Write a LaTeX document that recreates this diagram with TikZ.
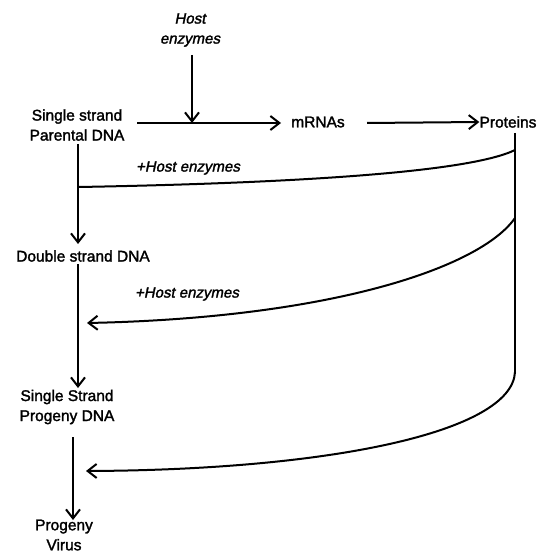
\documentclass[tikz,border=0pt]{standalone}
\usepackage{fontspec}
\setmainfont{Liberation Sans}
\newfontfamily\medsans{Liberation Sans}[FakeBold=1.8]
\newfontfamily\medsansit{Liberation Sans}[FakeBold=1.8,FakeSlant=0.2]
\usetikzlibrary{arrows.meta}
\begin{document}
\begin{tikzpicture}[x=1pt,y=-1pt,
  lbl/.style={font=\fontsize{15.5}{20}\selectfont\medsans, align=center, inner sep=0pt},
  note/.style={font=\fontsize{15}{20}\selectfont\medsansit, align=center, inner sep=0pt},
  flow/.style={line width=2pt, -{Straight Barb[length=9pt,width=14pt,line width=2pt]}},
  plain/.style={line width=2pt}]
\useasboundingbox (0,0) rectangle (546,553);

% labels
\node[note] (host) at (190,30) {Host\\enzymes};
\node[lbl] (ssp) at (77,125) {Single strand\\Parental DNA};
\node[lbl] (mrna) at (318,122) {mRNAs};
\node[lbl] (prot) at (508,122) {Proteins};
\node[lbl] (ds) at (83,256) {Double strand DNA};
\node[lbl] (sspr) at (67,407) {Single Strand\\Progeny DNA};
\node[lbl] (virus) at (64,535) {Progeny\\Virus};
\node[note] (h1) at (188,168) {+Host enzymes};
\node[note] (h2) at (187,294) {+Host enzymes};

% junction points
\coordinate (j0) at (192,123);
\coordinate (r0) at (515,133);
\coordinate (r1) at (515,150);
\coordinate (r2) at (515,218);
\coordinate (r3) at (515,372);
\coordinate (l1) at (79,187);
\coordinate (t2) at (87,323);
\coordinate (t3) at (86,471);

% top row
\draw[flow] (192,55) -- (j0);
\draw[flow] (137,123) -- (281,123);
\draw[flow] (367,123) -- (prot.west);

% left column
\draw[flow] (78,144) -- (78,244);
\draw[flow] (78,264) -- (78,388);
\draw[flow] (73,437) -- (73,520);

% right side feedback
\draw[plain] (r0) -- (r3);
\draw[plain] (r1) .. controls (470,172) and (300,183) .. (l1);
\draw[flow] (r2) .. controls (480,268) and (330,318) .. (t2);
\draw[flow] (r3) .. controls (512,432) and (330,470) .. (t3);
\end{tikzpicture}
\end{document}
